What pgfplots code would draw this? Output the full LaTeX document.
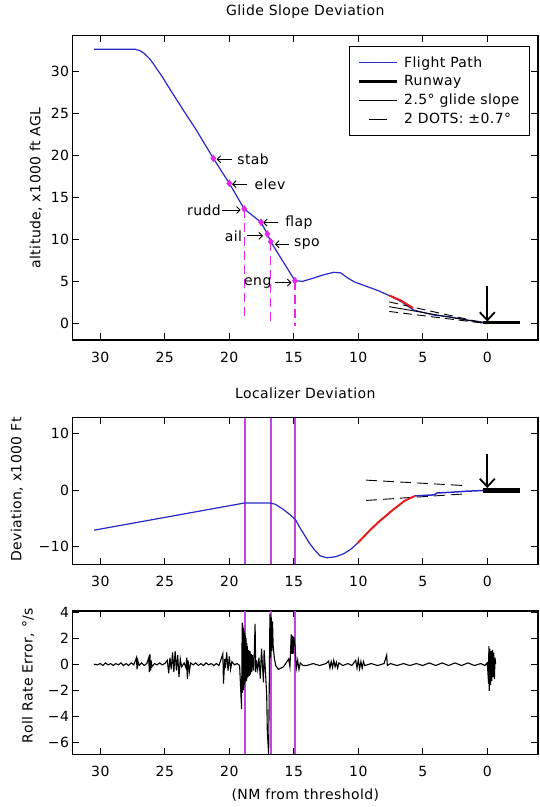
\documentclass[border=0pt]{standalone}
\usepackage{fontspec}
\setmainfont{DejaVu Sans}[LetterSpace=3]
\usepackage{pgfplots}
\pgfplotsset{compat=1.18}
\usetikzlibrary{arrows.meta}

\definecolor{fpblue}{RGB}{40,40,200}
\definecolor{capred}{RGB}{225,30,30}
\definecolor{mkmag}{RGB}{230,40,230}
\definecolor{vline}{RGB}{195,70,220}

\pgfplotsset{
  base/.style={
    scale only axis, width=465.3pt, x dir=reverse,
    xmin=-3.93, xmax=32.14,
    xtick={0,5,...,30}, xticklabels={0,5,10,15,20,25,30},
    tick align=inside, major tick length=6.5pt,
    axis line style={line width=1.1pt},
    every tick/.style={line width=1.1pt, black},
    xticklabel style={anchor=center, yshift=-17pt},
    yticklabel style={inner sep=3.5pt},
    title style={at={(axis description cs:0.5,1)}, anchor=center, yshift=18pt},
    ylabel style={anchor=center},
  },
  dotsimg/.style={legend image code/.code={\draw[##1,solid] (10pt,0pt) -- (28pt,0pt);}},
}
\tikzset{ann/.style={-{Straight Barb[length=3.5pt,width=7pt]}, line width=0.9pt}}

\begin{document}
\begin{tikzpicture}[font=\fontsize{14}{16}\selectfont]
\path[use as bounding box] (0pt,0pt) rectangle (539pt,807pt);

% ---- glide slope ----
\begin{axis}[base, at={(72.7pt,467pt)}, anchor=south west, height=304.3pt,
  ymin=-1.94, ymax=34.2, ytick={0,5,...,30}, yticklabels={0,5,10,15,20,25,30},
  title={Glide Slope Deviation},
  ylabel={altitude, x1000 ft AGL},
  ylabel style={at={(axis description cs:-0.079,0.5)}},
  legend style={at={(axis description cs:0.9828,0.9671)}, anchor=north east,
    draw=black, line width=1.1pt, inner xsep=8pt, inner ysep=8pt, row sep=2.5pt,
    column sep=3pt,
    nodes={inner sep=2.2pt, font=\fontsize{14}{16}\selectfont}},
  legend cell align=left,
  legend image code/.code={\draw[#1] (0pt,0pt) -- (38pt,0pt);},
]
\addplot[fpblue, line width=1.2pt] coordinates {
(30.48,32.6) (27.3,32.6) (26.9,32.4) (26.6,32.1) (26.2,31.5) (25.9,30.9)
(25.6,30.2) (25.27,29.5) (24.5,27.6) (23.5,25.2) (22.6,23.1) (21.24,19.64)
(20.0,16.67) (18.84,13.62) (17.54,12.04) (17.05,10.65) (16.79,9.74) (14.91,5.1)
(14.31,5.03) (13.5,5.4) (12.7,5.8) (11.9,6.1) (11.36,6.03) (10.83,5.43)
(10.29,4.95) (9.49,4.5) (8.42,3.9) (7.55,3.3) (6.6,2.55) (5.74,1.63)
(4.19,1.03) (2.9,0.8) (1.6,0.44) (0.05,0.12) (0,0.1)};
\addlegendentry{Flight Path}
\addplot[black, line width=3.2pt] coordinates {(0.3,0.1) (-2.5,0.1)};
\addlegendentry{Runway}
\addplot[black, line width=0.9pt] coordinates {(7.6,2.02) (0,0)};
\addlegendentry{2.5° glide slope}
\addplot[black, line width=0.9pt, dash pattern=on 9pt off 5pt, dotsimg]
  coordinates {(7.6,2.58) (0,0)};
\addlegendentry{2 DOTS: ±0.7°}
\addplot[black, line width=0.9pt, dash pattern=on 9pt off 5pt, forget plot]
  coordinates {(7.6,1.45) (0,0)};
\addplot[capred, line width=2pt, forget plot] coordinates {(7.6,3.35) (6.7,2.75) (5.75,1.85)};
% failure markers and drop lines
\addplot[mkmag, line width=1.5pt, dash pattern=on 9pt off 5pt, forget plot] coordinates {(18.84,13.62) (18.84,0.8)};
\addplot[mkmag, line width=1.5pt, dash pattern=on 9pt off 5pt, forget plot] coordinates {(16.81,9.74) (16.81,0)};
\addplot[mkmag, line width=1.5pt, dash pattern=on 9pt off 5pt, forget plot] coordinates {(14.91,5.1) (14.91,-0.3)};
\addplot[only marks, mark=diamond*, mark size=3.5pt, mkmag, forget plot] coordinates {
(21.24,19.64) (20.0,16.67) (18.84,13.62) (17.54,12.04) (17.05,10.65) (16.79,9.74) (14.91,5.1)};
\addplot[black, line width=1.8pt, -{Straight Barb[length=8pt,width=15pt]}, forget plot]
  coordinates {(0,4.5) (0,0.25)};
% labels
\draw[ann] (axis cs:19.79,19.52) -- (axis cs:20.98,19.52);
\node[anchor=west, inner sep=0pt] at (axis cs:19.39,19.52) {stab};
\draw[ann] (axis cs:18.59,16.56) -- (axis cs:19.79,16.56);
\node[anchor=west, inner sep=0pt] at (axis cs:18.05,16.56) {elev};
\draw[ann] (axis cs:20.59,13.5) -- (axis cs:19.12,13.5);
\node[anchor=east, inner sep=0pt] at (axis cs:20.64,13.5) {rudd};
\draw[ann] (axis cs:16.19,12.0) -- (axis cs:17.39,12.0);
\node[anchor=west, inner sep=0pt] at (axis cs:15.66,12.0) {flap};
\draw[ann] (axis cs:18.64,10.42) -- (axis cs:17.39,10.42);
\node[anchor=east, inner sep=0pt] at (axis cs:18.99,10.42) {ail};
\draw[ann] (axis cs:15.39,9.43) -- (axis cs:16.46,9.43);
\node[anchor=west, inner sep=0pt] at (axis cs:14.99,9.43) {spo};
\draw[ann] (axis cs:16.46,4.87) -- (axis cs:15.18,4.87);
\node[anchor=east, inner sep=0pt] at (axis cs:16.72,4.87) {eng};
\end{axis}

% ---- localizer ----
\begin{axis}[base, at={(72.7pt,242.7pt)}, anchor=south west, height=146.6pt,
  ymin=-13.1, ymax=12.85, ytick={-10,0,10}, yticklabels={−10,0,10},
  title={Localizer Deviation},
  ylabel={Deviation, x1000 Ft},
  ylabel style={at={(axis description cs:-0.1197,0.51)}},
]
\addplot[vline, line width=2pt] coordinates {(18.82,-13.1) (18.82,12.85)};
\addplot[vline, line width=2pt] coordinates {(16.8,-13.1) (16.8,12.85)};
\addplot[vline, line width=2pt] coordinates {(14.93,-13.1) (14.93,12.85)};
\addplot[black, line width=0.9pt, dash pattern=on 11pt off 6pt] coordinates {(9.4,1.8) (1.5,0.8)};
\addplot[black, line width=0.9pt, dash pattern=on 11pt off 6pt] coordinates {(9.4,-1.8) (1.5,-0.6)};
\addplot[fpblue, line width=1.2pt] coordinates {
(30.48,-7.06) (18.8,-2.24) (16.85,-2.24) (16.44,-2.47) (15.9,-3.24) (15.24,-4.41)
(14.84,-5.3) (14.57,-6.47) (14.17,-7.94) (13.77,-9.41) (13.37,-10.6) (12.97,-11.6)
(12.43,-11.94) (11.76,-11.76) (11.1,-11.2) (10.56,-10.4) (10.03,-9.3)};
\addplot[capred, line width=2pt] coordinates {
(10.03,-9.3) (9.22,-7.35) (8.42,-5.6) (7.35,-3.53) (6.42,-1.88) (5.61,-1.0)};
\addplot[fpblue, line width=1.5pt] coordinates {
(5.61,-1.0) (4.68,-0.88) (4.14,-0.82) (3.88,-0.47) (2.81,-0.35) (1.74,-0.18) (0,0)};
\addplot[black, line width=5pt] coordinates {(0.3,0) (-2.5,0)};
\addplot[black, line width=1.8pt, -{Straight Barb[length=8pt,width=15pt]}]
  coordinates {(0,6.5) (0,0.4)};
\end{axis}

% ---- roll rate ----
\begin{axis}[base, at={(72.7pt,52.7pt)}, anchor=south west, height=143.3pt,
  ymin=-6.94, ymax=4.1, ytick={-6,-4,...,4}, yticklabels={−6,−4,−2,0,2,4},
  ylabel={Roll Rate Error, °/s},
  ylabel style={at={(axis description cs:-0.096,0.55)}},
  xlabel={(NM from threshold)},
  xlabel style={at={(axis description cs:0.5,0)}, anchor=center, yshift=-41pt},
]
\addplot[vline, line width=2pt] coordinates {(18.82,-6.94) (18.82,4.1)};
\addplot[vline, line width=2pt] coordinates {(16.8,-6.94) (16.8,4.1)};
\addplot[vline, line width=2pt] coordinates {(14.93,-6.94) (14.93,4.1)};
\addplot[black, line width=1.1pt] coordinates {
(30.5,0) (30.2,-0.05) (30.0,0.05) (29.8,-0.1) (29.6,0.1) (29.4,-0.05) (29.2,0.05)
(29.0,-0.1) (28.8,0.05) (28.6,-0.05) (28.4,0.1) (28.2,-0.1) (28.0,0.05) (27.8,-0.1)
(27.6,0.1) (27.4,-0.05) (27.2,0.5) (27.15,-0.4) (27.1,0.3) (27.0,-0.1) (26.8,0.1)
(26.6,-0.1) (26.4,0.05) (26.25,0.5) (26.2,-0.6) (26.15,0.75) (26.1,-0.5) (26.05,0.3)
(26.0,-0.2) (25.8,0.05) (25.6,-0.05) (25.4,0.1) (25.2,-0.05) (25.0,0.05)
(24.8,0.3) (24.7,-0.7) (24.6,0.5) (24.5,-0.4) (24.4,0.9) (24.3,-0.6) (24.2,1.0)
(24.1,-0.5) (24.0,0.7) (23.9,-1.0) (23.8,0.4) (23.7,-0.2) (23.5,0.1) (23.35,-0.3)
(23.3,0.5) (23.25,-1.15) (23.2,0.3) (23.1,-0.6) (23.0,0.1) (22.8,-0.05) (22.6,0.1)
(22.4,-0.1) (22.2,0.05) (22.0,-0.1) (21.8,0.1) (21.6,-0.05) (21.4,0.05) (21.2,-0.1)
(21.0,0.05) (20.8,-0.1) (20.5,0.8) (20.45,-1.5) (20.35,0.4) (20.3,-0.3) (20.2,0.9)
(20.1,-0.5) (20.0,0.6) (19.9,-0.4) (19.8,0.2) (19.6,-0.05) (19.4,0.05) (19.2,-0.1)
(19.05,-3.45) (19.0,3.2) (18.97,-2.2) (18.95,3.0) (18.92,-2.0) (18.9,2.8) (18.87,-1.8)
(18.85,2.6) (18.82,-1.6) (18.8,2.4) (18.77,-1.4) (18.75,2.2) (18.72,-1.2) (18.7,2.0)
(18.67,-1.3) (18.65,1.6) (18.62,-1.1) (18.6,1.4) (18.55,-1.0) (18.5,1.1) (18.45,-0.9)
(18.4,1.0) (18.35,-0.8) (18.3,0.8) (18.25,-0.6) (18.2,0.7) (18.1,-0.5) (18.0,3.1)
(17.95,-0.6) (17.9,0.3) (17.8,-0.4) (17.7,0.5) (17.6,-1.1) (17.5,1.2) (17.4,-0.6)
(17.35,-1.4) (17.3,1.1) (17.2,-0.5) (17.1,-2.4) (17.05,-5.3) (16.95,-6.9)
(16.85,3.9) (16.8,0.5) (16.75,3.6) (16.7,1.0) (16.65,3.3) (16.6,1.4) (16.5,0.4)
(16.4,-0.1) (16.2,-0.4) (16.0,-0.3) (15.8,-0.2) (15.6,0.1) (15.4,0.4) (15.3,-0.2)
(15.2,2.3) (15.15,0.8) (15.1,2.2) (15.05,0.8) (15.0,2.1) (14.9,1.4) (14.8,-0.3)
(14.7,0.3) (14.6,-0.4) (14.5,0.1)
(14.3,-0.1) (14.0,-0.1) (13.5,0.05) (13.0,-0.1) (12.5,0.05) (12.3,0.25) (12.2,-0.3)
(12.1,0.2) (12.0,-0.25) (11.9,0.3) (11.8,-0.2) (11.7,0.15) (11.6,-0.3) (11.5,0.1)
(11.2,-0.1) (10.8,0.05) (10.5,-0.1) (10.2,0.3) (10.1,-0.3) (10.0,0.35) (9.9,-0.35)
(9.8,0.2) (9.7,-0.3) (9.6,0.2) (9.5,-0.1) (9.0,0.05) (8.5,-0.1) (8.0,0.05) (7.8,0.7)
(7.75,-0.1) (7.5,0.05) (7.0,-0.1) (6.5,0.05) (6.0,-0.1) (5.5,0.05) (5.0,-0.1)
(4.5,0.1) (4.0,-0.1) (3.5,0.1) (3.0,-0.1) (2.5,0.1) (2.0,-0.1) (1.5,0.1) (1.0,-0.1)
(0.5,0.05) (0.2,-0.1) (0.0,0.1) (-0.1,-1.5) (-0.12,1.4) (-0.15,-2.05) (-0.2,1.2)
(-0.25,-1.6) (-0.3,1.0) (-0.35,-1.3) (-0.4,1.1) (-0.45,-1.0) (-0.5,0.9) (-0.55,-1.15)
(-0.6,0.5) (-0.65,0)};
\end{axis}
\end{tikzpicture}
\end{document}
